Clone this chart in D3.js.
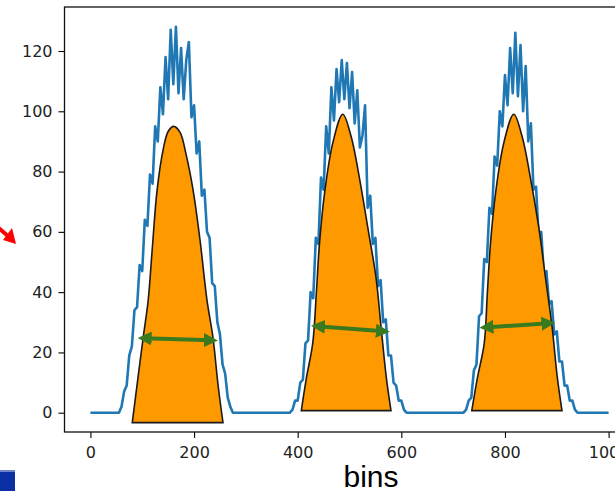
<!DOCTYPE html>
<html><head><meta charset="utf-8">
<script src="https://cdn.jsdelivr.net/npm/d3@7"></script>
<style>html,body{margin:0;padding:0;background:#fff;overflow:hidden}</style>
</head><body><svg id="c" width="615" height="491"></svg>
<script>
// ---- data ----
const binStep = 5;
const counts = [
  0,0,0,0,0,0,0,0,0,0,0,
  0,2,7,9,19,22,34,35,49,47,64,62,79,76,95,90,108,99,118,104,127,109,128,106,121,104,117,123,98,102,86,90,72,74,60,58,43,42,30,26,16,13,5,2,0,
  0,0,0,0,0,0,0,0,0,0,0,0,0,0,0,0,0,0,0,0,0,
  0,1,4,4,10,11,23,24,40,38,58,56,78,74,95,86,108,97,114,103,117,104,116,101,113,96,107,88,92,102,68,72,56,58,42,44,30,31,19,19,10,9,4,4,1,0,
  0,0,0,0,0,0,0,0,0,0,0,0,0,0,0,0,0,0,0,0,0,
  0,1,4,5,14,16,32,33,51,50,68,66,85,82,100,95,112,102,121,106,126,105,122,100,115,90,96,74,75,58,60,46,47,36,37,26,27,17,17,9,9,4,4,1,0,
  0,0,0,0,0,0,0,0,0,0,0,0
];
const xTicks = [0, 200, 400, 600, 800, 1000];
const yTicks = [0, 20, 40, 60, 80, 100, 120];
const xLabel = "bins";

// fitted (orange) peak outlines: [bin, value]
const fitPeak1 = [[80.8,-3.3],[90.4,9.7],[101.9,25],[111.5,37.3],[119.2,54],[128.8,74],[140.4,87.3],[150,93.3],[160.6,95],[173,93],[184.6,85.7],[198,74],[211.5,57.3],[225,37.3],[236.5,25],[246,9.7],[255.8,-3.3]];
const fitPeak2 = [[407,0.7],[417,11.7],[429,23],[436,39.7],[442,56],[452,73],[468,89.7],[487,99],[503,91.7],[519,78],[535,61.7],[551,45],[561,28.3],[571,11.7],[580,0.7]];
const fitPeak3 = [[736,0.7],[747,11.7],[760,23],[766,39.7],[772,56],[782,73],[798,89.7],[817,99],[833,91.7],[849,78],[865,61.7],[878,45],[891,28.3],[901,11.7],[910,0.7]];
const fitPeaks = [fitPeak1, fitPeak2, fitPeak3];

// width (double-headed) arrows: [[bin,value],[bin,value]]
const widthArrows = [
  [[102, 24.7], [235, 24.0]],
  [[436.5, 28.7], [567, 27.0]],
  [[761.5, 28.3], [886.5, 29.7]]
];

// ---- drawing ----
const svg = d3.select("#c");
const x = d3.scaleLinear().domain([-50, 1049]).range([64.5, 634]);
const y = d3.scaleLinear().domain([-6.4, 134.6]).range([432, 7]);

const defs = svg.append("defs");
defs.append("clipPath").attr("id","plotclip").append("rect")
  .attr("x",64.5).attr("y",7).attr("width",570).attr("height",425);
["s","e"].forEach(k => {
  defs.append("marker").attr("id","gh"+k)
    .attr("viewBox","0 0 10 10").attr("refX", 6).attr("refY",5)
    .attr("markerWidth",14).attr("markerHeight",14)
    .attr("markerUnits","userSpaceOnUse")
    .attr("orient", k==="s" ? "auto-start-reverse" : "auto")
    .append("path").attr("d","M0,0 L10,5 L0,10 Z").attr("fill","#3a7a1f");
});

// blue histogram line
const lineData = counts.map((c,i) => [i*binStep, c]);
svg.append("path").datum(lineData)
  .attr("clip-path","url(#plotclip)")
  .attr("fill","none").attr("stroke","#1f77b4").attr("stroke-width",2.6)
  .attr("stroke-linejoin","round")
  .attr("d", d3.line().x(d=>x(d[0])).y(d=>y(d[1])));

// axes
const fontTicks = "DejaVu Sans, sans-serif";
const gy = svg.append("g").attr("transform","translate(64.5,0)")
  .call(d3.axisLeft(y).tickValues(yTicks).tickFormat(d3.format("d")).tickSize(6).tickPadding(6));
const gx = svg.append("g").attr("transform","translate(0,432)")
  .call(d3.axisBottom(x).tickValues(xTicks).tickFormat(d3.format("d")).tickSize(6).tickPadding(9));
[gx, gy].forEach(g => {
  g.select(".domain").remove();
  g.selectAll("line").attr("stroke","#000").attr("stroke-width",1.1);
  g.selectAll("text").attr("fill","#222").style("font-family",fontTicks).style("font-size","16px");
});

// frame
svg.append("rect").attr("x",64.5).attr("y",7).attr("width",570).attr("height",425)
  .attr("fill","none").attr("stroke","#111").attr("stroke-width",1.3);

// fitted peaks (orange)
const curve = d3.line().x(d=>x(d[0])).y(d=>y(d[1])).curve(d3.curveCatmullRom.alpha(0.5));
fitPeaks.forEach(pk => {
  svg.append("path").attr("d", curve(pk) + "Z")
    .attr("fill","#ff9900").attr("stroke","#1a1a1a").attr("stroke-width",1.6);
});

// green width arrows
widthArrows.forEach(a => {
  svg.append("line")
    .attr("x1", x(a[0][0])).attr("y1", y(a[0][1]))
    .attr("x2", x(a[1][0])).attr("y2", y(a[1][1]))
    .attr("stroke","#3a7a1f").attr("stroke-width",4)
    .attr("marker-start","url(#ghs)").attr("marker-end","url(#ghe)");
});

// x label
svg.append("text").attr("x",371).attr("y",487).attr("text-anchor","middle")
  .style("font-family","Liberation Sans, Arial, sans-serif").style("font-size","30px")
  .attr("fill","#000").text(xLabel);

// slide decorations: red arrow at left, blue box bottom-left
svg.append("line").attr("x1",-8).attr("y1",222).attr("x2",9).attr("y2",237)
  .attr("stroke","#ff0000").attr("stroke-width",4);
svg.append("path").attr("d","M16,244 L3,240 L12,228 Z").attr("fill","#ff0000");
svg.append("rect").attr("x",0).attr("y",470).attr("width",15).attr("height",21).attr("fill","#0b30a3");
svg.append("rect").attr("x",0).attr("y",470).attr("width",15).attr("height",2).attr("fill","#6f84c8");
</script></body></html>
